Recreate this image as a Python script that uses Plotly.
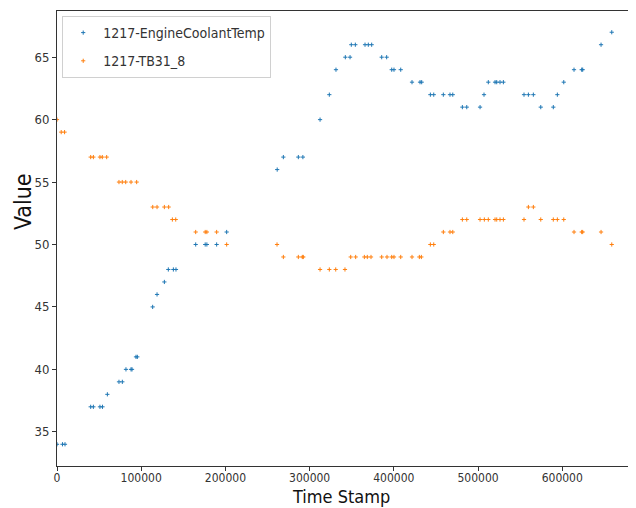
import plotly.graph_objects as go

# Series 1: 1217-EngineCoolantTemp
coolant_ts = [0, 6500, 9500, 40000, 43200, 51000, 54000, 59800, 73600, 77600,
              81900, 87900, 89100, 93800, 95400, 113600, 118800, 127500, 132200, 138200,
              141300, 164700, 176000, 178000, 189600, 201500, 261500, 268800, 286600, 292000,
              312400, 323400, 331300, 342400, 348000, 349500, 354300, 365800, 369700, 373700,
              385600, 391500, 397500, 400200, 408200, 421600, 431100, 433100, 443400, 447400,
              458800, 466700, 470000, 481400, 486600, 502400, 507100, 512200, 520200, 522200,
              526100, 530100, 554600, 559800, 565700, 574500, 589400, 594200, 601800, 614000,
              623100, 624300, 646100, 658800]
coolant_val = [34, 34, 34, 37, 37, 37, 37, 38, 39, 39,
               40, 40, 40, 41, 41, 45, 46, 47, 48, 48,
               48, 50, 50, 50, 50, 51, 56, 57, 57, 57,
               60, 62, 64, 65, 65, 66, 66, 66, 66, 66,
               65, 65, 64, 64, 64, 63, 63, 63, 62, 62,
               62, 62, 62, 61, 61, 61, 62, 63, 63, 63,
               63, 63, 62, 62, 62, 61, 61, 62, 63, 64,
               64, 64, 66, 67]

# Series 2: 1217-TB31_8
tb_ts = [0, 5000, 9000, 40000, 43200, 51000, 53800, 59000, 73600, 77500,
         81600, 87900, 94600, 113700, 118800, 127500, 132600, 137000, 141000, 164700,
         176000, 178000, 189600, 201500, 261300, 268800, 286600, 291300, 292500, 312400,
         323400, 331000, 342000, 348800, 354700, 365000, 368500, 372900, 385600, 391900,
         397500, 400200, 408200, 421600, 430300, 432700, 443400, 447400, 458800, 466700,
         470000, 481400, 486600, 502400, 507500, 512200, 520200, 522200, 526100, 530100,
         554600, 559800, 565700, 574500, 589400, 594200, 601800, 614000, 623100, 624300,
         646100, 658800]
tb_val = [60, 59, 59, 57, 57, 57, 57, 57, 55, 55,
          55, 55, 55, 53, 53, 53, 53, 52, 52, 51,
          51, 51, 51, 50, 50, 49, 49, 49, 49, 48,
          48, 48, 48, 49, 49, 49, 49, 49, 49, 49,
          49, 49, 49, 49, 49, 49, 50, 50, 51, 51,
          51, 52, 52, 52, 52, 52, 52, 52, 52, 52,
          52, 53, 53, 52, 52, 52, 52, 51, 51, 51,
          51, 50]

x_ticks = [0, 100000, 200000, 300000, 400000, 500000, 600000]
y_ticks = [35, 40, 45, 50, 55, 60, 65]

FONT = "DejaVu Sans Condensed, DejaVu Sans, sans-serif"

fig = go.Figure()
fig.add_trace(go.Scatter(
    x=coolant_ts, y=coolant_val, mode="markers", name="1217-EngineCoolantTemp",
    legendgroup="a",
    marker=dict(symbol="cross-thin", size=3, color="#1f77b4",
                line=dict(width=1, color="#1f77b4")),
))
fig.add_trace(go.Scatter(
    x=tb_ts, y=tb_val, mode="markers", name="1217-TB31_8",
    legendgroup="b",
    marker=dict(symbol="cross-thin", size=3, color="#ff7f0e",
                line=dict(width=1, color="#ff7f0e")),
))

# page has an 8px body margin, so the figure is sized to fill the rest of the window
fig.update_layout(
    width=628, height=500,
    margin=dict(l=49, r=0, t=3, b=42),
    paper_bgcolor="white", plot_bgcolor="white",
    font=dict(family=FONT, size=12, color="#333"),
    showlegend=True,
    legend=dict(x=0.009, y=0.989, xanchor="left", yanchor="top",
                bgcolor="rgba(255,255,255,0.8)", bordercolor="#d0d0d0", borderwidth=1,
                font=dict(family=FONT, size=14, color="#333"),
                itemsizing="trace", traceorder="grouped", tracegroupgap=7),
    annotations=[
        dict(text="Time Stamp", xref="paper", yref="paper", x=0.49, y=-0.0923,
             xanchor="center", yanchor="bottom", showarrow=False, borderpad=0,
             font=dict(family=FONT, size=18, color="#111")),
        dict(text="Value", xref="paper", yref="paper", x=-0.0846, y=0.58,
             xanchor="left", yanchor="middle", showarrow=False, textangle=-90,
             font=dict(family=FONT, size=23, color="#111")),
    ],
)
fig.update_xaxes(
    range=[0, 687600], tickvals=x_ticks, ticktext=[str(v) for v in x_ticks],
    showgrid=False, zeroline=False, showline=True, linecolor="#333", linewidth=1,
    mirror=True, ticks="outside", ticklen=4, tickcolor="#333", automargin=False,
    ticklabelstandoff=-3,
    tickfont=dict(family=FONT, size=12, color="#333"),
)
fig.update_yaxes(
    range=[32.26, 68.7], tickvals=y_ticks, ticktext=[str(v) for v in y_ticks],
    showgrid=False, zeroline=False, showline=True, linecolor="#333", linewidth=1,
    mirror=False, ticks="outside", ticklen=4, tickcolor="#333", automargin=False,
    tickfont=dict(family=FONT, size=13, color="#333"),
)

fig.write_html("out.html")
